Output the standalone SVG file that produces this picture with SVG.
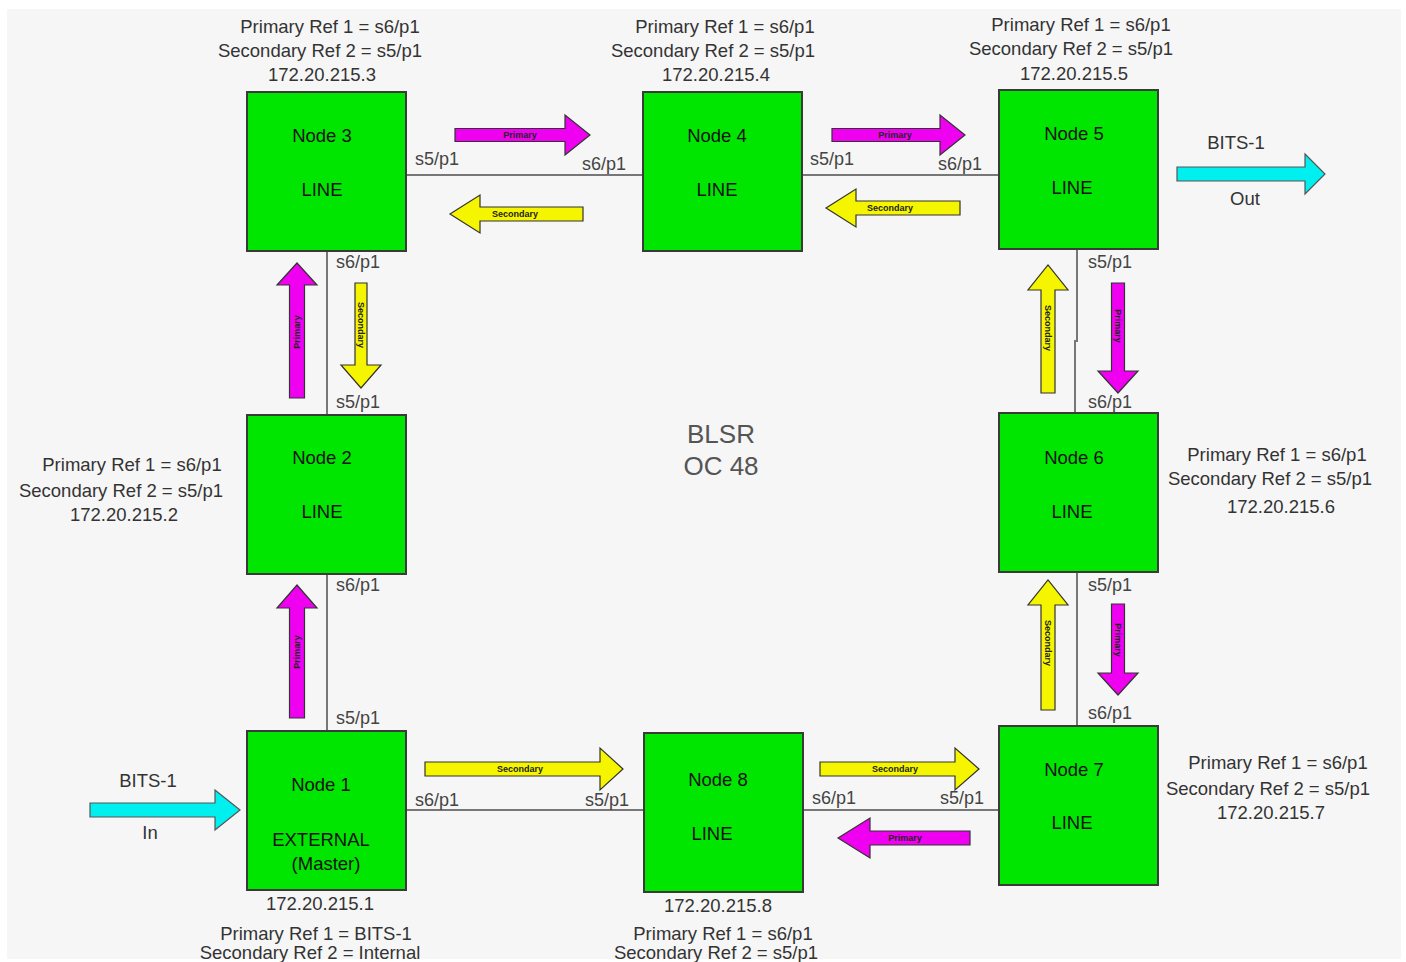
<svg xmlns="http://www.w3.org/2000/svg" width="1406" height="962" viewBox="0 0 1406 962">
<style>
.node{fill:#00e600;stroke:#3a3a3a;stroke-width:2}
.nl{font-family:"Liberation Sans",Arial,sans-serif;font-size:18.5px;fill:#111;text-anchor:middle}
.t{font-family:"Liberation Sans",Arial,sans-serif;font-size:18.5px;fill:#333;text-anchor:middle}
.p{font-family:"Liberation Sans",Arial,sans-serif;font-size:18px;fill:#444}
.big{font-family:"Liberation Sans",Arial,sans-serif;font-size:26px;fill:#555;text-anchor:middle}
.link{stroke:#777;stroke-width:2;fill:none}
.pri{fill:#f000f0;stroke:#333;stroke-width:1.2}
.sec{fill:#f5f500;stroke:#333;stroke-width:1.2}
.bits{fill:#00f0f0;stroke:#555;stroke-width:1.2}
.at{font-family:"Liberation Sans",Arial,sans-serif;font-size:9px;font-weight:bold;fill:#222;text-anchor:middle}
</style>
<rect x="0" y="0" width="1406" height="962" fill="#fff"/>
<rect x="7" y="9" width="1394" height="950" fill="#f6f6f6"/>

<g id="connectors">
<path class="link" d="M406 175H643M802 175H999"/>
<path class="link" d="M406 810H644M803 810H999"/>
<path class="link" d="M327 251V415M327 574V731"/>
<path class="link" d="M1077 249V342M1075 340V413M1077 572V726"/>
</g>

<g id="arrows">
<polygon class="pri" points="455,128.5 565,128.5 565,115 590,135 565,155 565,141.5 455,141.5"/>
<text class="at" x="520" y="138">Primary</text>
<polygon class="sec" points="583,207 480,207 480,195 450,214 480,233 480,221 583,221"/>
<text class="at" x="515" y="217">Secondary</text>
<polygon class="pri" points="832,128.5 940,128.5 940,115 965,135 940,155 940,141.5 832,141.5"/>
<text class="at" x="895" y="138">Primary</text>
<polygon class="sec" points="960,201 856,201 856,189 826,208 856,227 856,215 960,215"/>
<text class="at" x="890" y="211">Secondary</text>

<polygon class="pri" points="289.5,398 289.5,285 277,285 297,263 317,285 304.5,285 304.5,398"/>
<text class="at" transform="translate(300,332) rotate(-90)">Primary</text>
<polygon class="sec" points="355,283 367,283 367,365 381,365 361,388 341,365 355,365"/>
<text class="at" transform="translate(358,325) rotate(90)">Secondary</text>
<polygon class="pri" points="289.5,718 289.5,608 277,608 297,585 317,608 304.5,608 304.5,718"/>
<text class="at" transform="translate(300,652) rotate(-90)">Primary</text>

<polygon class="sec" points="1041,393 1041,290 1028,290 1048,265 1068,290 1055,290 1055,393"/>
<text class="at" transform="translate(1045,328) rotate(90)">Secondary</text>
<polygon class="pri" points="1111.5,283 1124.5,283 1124.5,371 1138,371 1118,393 1098,371 1111.5,371"/>
<text class="at" transform="translate(1115,326) rotate(90)">Primary</text>
<polygon class="sec" points="1041,710 1041,605 1028,605 1048,580 1068,605 1055,605 1055,710"/>
<text class="at" transform="translate(1045,643) rotate(90)">Secondary</text>
<polygon class="pri" points="1111.5,604 1124.5,604 1124.5,673 1138,673 1118,695 1098,673 1111.5,673"/>
<text class="at" transform="translate(1115,640) rotate(90)">Primary</text>

<polygon class="sec" points="425,762 600,762 600,748 623,769 600,790 600,776 425,776"/>
<text class="at" x="520" y="772">Secondary</text>
<polygon class="sec" points="820,762 955,762 955,748 979,769 955,790 955,776 820,776"/>
<text class="at" x="895" y="772">Secondary</text>
<polygon class="pri" points="970,831 870,831 870,818 838,838 870,858 870,845 970,845"/>
<text class="at" x="905" y="841">Primary</text>

<polygon class="bits" points="90,803 215,803 215,790 240,810 215,830 215,817 90,817"/>
<polygon class="bits" points="1177,167 1305,167 1305,154 1325,174 1305,194 1305,181 1177,181"/>
</g>

<g id="labels">
<text class="t" x="148" y="787">BITS-1</text>
<text class="t" x="150" y="839" font-size="14">In</text>
<text class="t" x="1236" y="149">BITS-1</text>
<text class="t" x="1245" y="205">Out</text>
<text class="big" x="721" y="443">BLSR</text>
<text class="big" x="721" y="475">OC 48</text>

<text class="p" x="415" y="165">s5/p1</text>
<text class="p" x="582" y="170">s6/p1</text>
<text class="p" x="810" y="165">s5/p1</text>
<text class="p" x="938" y="170">s6/p1</text>
<text class="p" x="336" y="268">s6/p1</text>
<text class="p" x="336" y="408">s5/p1</text>
<text class="p" x="336" y="591">s6/p1</text>
<text class="p" x="336" y="724">s5/p1</text>
<text class="p" x="1088" y="268">s5/p1</text>
<text class="p" x="1088" y="408">s6/p1</text>
<text class="p" x="1088" y="591">s5/p1</text>
<text class="p" x="1088" y="719">s6/p1</text>
<text class="p" x="415" y="806">s6/p1</text>
<text class="p" x="585" y="806">s5/p1</text>
<text class="p" x="812" y="804">s6/p1</text>
<text class="p" x="940" y="804">s5/p1</text>
</g>

<g id="node3">
<rect class="node" x="247" y="92" width="159" height="159"/>
<text class="nl" x="322" y="142">Node 3</text>
<text class="nl" x="322" y="196">LINE</text>
<text class="t" x="330" y="33">Primary Ref 1 = s6/p1</text>
<text class="t" x="320" y="57">Secondary Ref 2 = s5/p1</text>
<text class="t" x="322" y="81">172.20.215.3</text>
</g>
<g id="node4">
<rect class="node" x="643" y="92" width="159" height="159"/>
<text class="nl" x="717" y="142">Node 4</text>
<text class="nl" x="717" y="196">LINE</text>
<text class="t" x="725" y="33">Primary Ref 1 = s6/p1</text>
<text class="t" x="713" y="57">Secondary Ref 2 = s5/p1</text>
<text class="t" x="716" y="81">172.20.215.4</text>
</g>
<g id="node5">
<rect class="node" x="999" y="90" width="159" height="159"/>
<text class="nl" x="1074" y="140">Node 5</text>
<text class="nl" x="1072" y="194">LINE</text>
<text class="t" x="1081" y="31">Primary Ref 1 = s6/p1</text>
<text class="t" x="1071" y="55">Secondary Ref 2 = s5/p1</text>
<text class="t" x="1074" y="80">172.20.215.5</text>
</g>
<g id="node2">
<rect class="node" x="247" y="415" width="159" height="159"/>
<text class="nl" x="322" y="464">Node 2</text>
<text class="nl" x="322" y="518">LINE</text>
<text class="t" x="132" y="471">Primary Ref 1 = s6/p1</text>
<text class="t" x="121" y="497">Secondary Ref 2 = s5/p1</text>
<text class="t" x="124" y="521">172.20.215.2</text>
</g>
<g id="node6">
<rect class="node" x="999" y="413" width="159" height="159"/>
<text class="nl" x="1074" y="464">Node 6</text>
<text class="nl" x="1072" y="518">LINE</text>
<text class="t" x="1277" y="461">Primary Ref 1 = s6/p1</text>
<text class="t" x="1270" y="485">Secondary Ref 2 = s5/p1</text>
<text class="t" x="1281" y="513">172.20.215.6</text>
</g>
<g id="node1">
<rect class="node" x="247" y="731" width="159" height="159"/>
<text class="nl" x="321" y="791">Node 1</text>
<text class="nl" x="321" y="846">EXTERNAL</text>
<text class="nl" x="326" y="870">(Master)</text>
<text class="t" x="320" y="910">172.20.215.1</text>
<text class="t" x="316" y="940">Primary Ref 1 = BITS-1</text>
<text class="t" x="310" y="959">Secondary Ref 2 = Internal</text>
</g>
<g id="node8">
<rect class="node" x="644" y="733" width="159" height="159"/>
<text class="nl" x="718" y="786">Node 8</text>
<text class="nl" x="712" y="840">LINE</text>
<text class="t" x="718" y="912">172.20.215.8</text>
<text class="t" x="723" y="940">Primary Ref 1 = s6/p1</text>
<text class="t" x="716" y="959">Secondary Ref 2 = s5/p1</text>
</g>
<g id="node7">
<rect class="node" x="999" y="726" width="159" height="159"/>
<text class="nl" x="1074" y="776">Node 7</text>
<text class="nl" x="1072" y="829">LINE</text>
<text class="t" x="1278" y="769">Primary Ref 1 = s6/p1</text>
<text class="t" x="1268" y="795">Secondary Ref 2 = s5/p1</text>
<text class="t" x="1271" y="819">172.20.215.7</text>
</g>
</svg>
